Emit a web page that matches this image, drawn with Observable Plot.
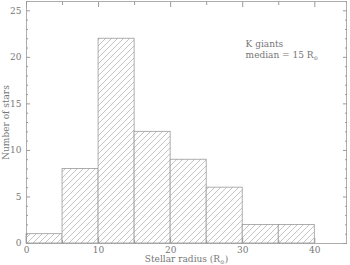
<!DOCTYPE html>
<html>
<head>
<meta charset="utf-8">
<script src="https://cdn.jsdelivr.net/npm/d3@7"></script>
<script src="https://cdn.jsdelivr.net/npm/@observablehq/plot@0.6"></script>
<style>
  html, body { margin: 0; padding: 0; background: white; }
</style>
</head>
<body>
<div id="chart"></div>
<script>
// Histogram of stellar radii (K giants)
const binStart = [0, 5, 10, 15, 20, 25, 30, 35];
const binEnd = [5, 10, 15, 20, 25, 30, 35, 40];
const counts = [1, 8, 22, 12, 9, 6, 2, 2];
const xTickLabels = [0, 10, 20, 30, 40];
const yTickLabels = [0, 5, 10, 15, 20, 25];
const xMinorTicks = [5, 15, 25, 35];
const yMinorTicks = d3.range(0, 27).filter(v => v % 5 !== 0);
const annotation = ["K giants", "median = 15 R⊙"];
const xTitle = "Stellar radius (R⊙)";
const yTitle = "Number of stars";

const bins = binStart.map((s, i) => ({x1: s, x2: binEnd[i], count: counts[i]}));

const GRAY = "#9a9a9a";
const TEXT = "#777777";

const defs = () => {
  const g = d3.create("svg:g");
  const s = 6;
  const p = g.append("defs").append("pattern")
    .attr("id", "hatch").attr("patternUnits", "userSpaceOnUse")
    .attr("width", s).attr("height", s);
  p.append("rect").attr("width", s).attr("height", s).attr("fill", "white");
  p.append("path")
    .attr("d", `M-1,1 L1,-1 M0,${s} L${s},0 M${s - 1},${s + 1} L${s + 1},${s - 1}`)
    .attr("stroke", "#aaaaaa").attr("stroke-width", 0.7);
  return g.node();
};

const plot = Plot.plot({
  width: 350,
  height: 265,
  marginLeft: 26,
  marginRight: 4,
  marginTop: 1,
  marginBottom: 22,
  x: {domain: [0, 44.4]},
  y: {domain: [0, 26]},
  style: {fontFamily: "'DejaVu Serif', serif", fontSize: "9px", color: TEXT, background: "white"},
  marks: [
    defs,
    Plot.rectY(bins, {x1: "x1", x2: "x2", y: "count", fill: "url(#hatch)", stroke: GRAY, strokeWidth: 0.8}),
    Plot.frame({stroke: GRAY, strokeWidth: 0.8}),
    // bottom axis
    Plot.axisX({anchor: "bottom", ticks: xTickLabels, tickSize: -5, tickPadding: 8.5, label: null, stroke: GRAY, fill: TEXT}),
    Plot.axisX({anchor: "bottom", ticks: xMinorTicks, tickSize: -3, tickFormat: () => "", label: null, stroke: GRAY}),
    // top axis
    Plot.axisX({anchor: "top", ticks: xTickLabels, tickSize: -5, tickFormat: () => "", label: null, stroke: GRAY}),
    Plot.axisX({anchor: "top", ticks: xMinorTicks, tickSize: -3, tickFormat: () => "", label: null, stroke: GRAY}),
    // left axis
    Plot.axisY({anchor: "left", ticks: yTickLabels, tickSize: -4, tickPadding: 9, label: null, stroke: GRAY, fill: TEXT}),
    Plot.axisY({anchor: "left", ticks: yMinorTicks, tickSize: -2, tickFormat: () => "", label: null, stroke: GRAY}),
    // right axis
    Plot.axisY({anchor: "right", ticks: yTickLabels, tickSize: -4, tickFormat: () => "", label: null, stroke: GRAY}),
    Plot.axisY({anchor: "right", ticks: yMinorTicks, tickSize: -2, tickFormat: () => "", label: null, stroke: GRAY}),
    // titles
    Plot.text([xTitle], {frameAnchor: "bottom", dy: 16, lineAnchor: "middle", textAnchor: "middle", fill: TEXT, fontSize: 9}),
    Plot.text([yTitle], {frameAnchor: "left", dx: -20, rotate: -90, textAnchor: "middle", lineAnchor: "middle", fill: TEXT, fontSize: 9}),
    // annotation
    Plot.text([annotation[0]], {x: 30.4, y: 21.4, textAnchor: "start", fill: TEXT, fontSize: 9}),
    Plot.text([annotation[1]], {x: 30.4, y: 20.2, textAnchor: "start", fill: TEXT, fontSize: 9})
  ]
});

// Render the ⊙ symbol as a small subscript
d3.select(plot).selectAll("text").each(function() {
  const t = this.textContent;
  if (t && t.includes("⊙") && !this.querySelector("tspan")) {
    const [before, after] = t.split("⊙");
    const sel = d3.select(this);
    sel.text(null);
    sel.append("tspan").text(before);
    sel.append("tspan").attr("font-size", "5.5px").attr("dy", "1.5").text("⊙");
    if (after) sel.append("tspan").attr("dy", "-1.5").text(after);
  }
});

document.getElementById("chart").appendChild(plot);
</script>
</body>
</html>
